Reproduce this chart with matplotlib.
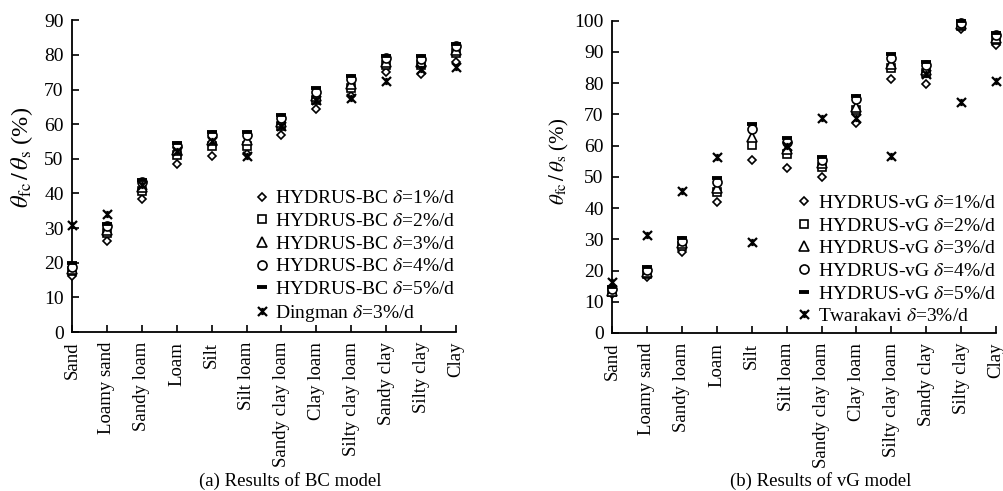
import matplotlib.pyplot as plt
import numpy as np
from matplotlib.path import Path

plt.rcParams['font.family'] = 'Liberation Serif'
plt.rcParams['mathtext.fontset'] = 'stix'

soils = ['Sand', 'Loamy sand', 'Sandy loam', 'Loam', 'Silt', 'Silt loam',
         'Sandy clay loam', 'Clay loam', 'Silty clay loam', 'Sandy clay',
         'Silty clay', 'Clay']

# BC model, theta_fc/theta_s (%)
bc_1 = [16.3, 26.4, 38.4, 48.4, 50.9, 51.3, 56.9, 64.5, 68.0, 75.0, 74.6, 78.0]
bc_2 = [17.5, 28.5, 40.8, 51.2, 53.8, 53.8, 59.5, 67.0, 70.3, 77.0, 77.0, 80.4]
bc_3 = [18.2, 29.5, 42.0, 52.5, 55.5, 55.5, 60.5, 68.0, 71.5, 78.0, 78.0, 81.5]
bc_4 = [18.8, 30.5, 43.2, 53.8, 56.9, 56.9, 61.8, 69.3, 73.0, 79.0, 78.8, 82.5]
bc_5 = [19.8, 31.3, 44.0, 54.5, 57.8, 57.8, 62.6, 70.3, 74.0, 79.6, 79.8, 83.2]
dingman = [31.0, 34.0, 42.5, 52.2, 55.0, 50.8, 59.5, 67.0, 67.5, 72.5, 76.0, 76.5]

# vG model
vg_1 = [12.5, 18.0, 26.0, 42.0, 55.3, 52.7, 50.0, 67.3, 81.3, 79.7, 97.3, 92.3]
vg_2 = [13.0, 19.0, 28.0, 45.2, 60.2, 57.3, 53.3, 71.4, 84.8, 83.3, 98.2, 93.8]
vg_3 = [13.5, 19.5, 28.8, 46.5, 62.8, 59.0, 54.5, 72.5, 86.3, 84.3, 98.8, 94.5]
vg_4 = [14.0, 20.3, 29.5, 48.5, 65.2, 61.3, 55.5, 75.0, 88.2, 85.8, 99.3, 95.3]
vg_5 = [14.8, 21.0, 30.5, 49.5, 66.8, 62.5, 56.5, 76.0, 89.2, 86.8, 99.8, 96.0]
twarakavi = [16.4, 31.4, 45.5, 56.3, 29.2, 59.8, 68.8, 69.0, 56.8, 83.0, 74.1, 80.7]

# asterisk marker: x with a short vertical bar
star = Path([(-1, -1), (1, 1), (-1, 1), (1, -1), (0, -0.8), (0, 0.8)],
            [Path.MOVETO, Path.LINETO, Path.MOVETO, Path.LINETO,
             Path.MOVETO, Path.LINETO])

styles = [
    dict(marker='D', ms=4.5, mfc='white', mec='black', mew=1.2),
    dict(marker='s', ms=6, mfc='white', mec='black', mew=1.2),
    dict(marker='^', ms=6.5, mfc='white', mec='black', mew=1.2),
    dict(marker='o', ms=6.5, mfc='white', mec='black', mew=1.2),
    dict(marker='_', ms=7, mec='black', mew=2.8),
    dict(marker=star, ms=6.5, mec='black', mew=1.6),
]

fig = plt.figure(figsize=(10.04, 4.91), dpi=100)
ax1 = fig.add_axes([0.0717, 0.3238, 0.3825, 0.635])
ax2 = fig.add_axes([0.6096, 0.3218, 0.3825, 0.6360])

x = np.arange(len(soils))


def draw(ax, series, labels, ymax, caption, cx, ylab_size, ylab_xy):
    for vals, lab, st in zip(series, labels, styles):
        ax.plot(x, vals, ls='none', color='black', label=lab, clip_on=False,
                zorder=3, **st)
    ax.set_xlim(0, 11)
    ax.set_ylim(0, ymax)
    ax.set_yticks(np.arange(0, ymax + 1, 10))
    ax.set_xticks(x)
    ax.set_xticklabels(soils, rotation=90, fontsize=13.5)
    ax.tick_params(axis='y', labelsize=14, pad=6)
    ax.tick_params(axis='x', pad=7)
    ax.tick_params(direction='in', length=5, width=1.2)
    ax.spines['top'].set_visible(False)
    ax.spines['right'].set_visible(False)
    ax.spines['left'].set_linewidth(1.3)
    ax.spines['bottom'].set_linewidth(1.3)
    ax.set_ylabel(r'$\theta_{\rm fc}\,/\,\theta_{\rm s}$ (%)',
                  fontsize=ylab_size)
    ax.yaxis.set_label_coords(*ylab_xy)
    ax.legend(loc='lower right', bbox_to_anchor=(1.0, 0.025), frameon=False,
              fontsize=14, handlelength=0.6, handletextpad=0.4,
              labelspacing=0.26, borderaxespad=0.0, borderpad=0.0)
    fig.text(cx, 0.003, caption, ha='center', va='bottom', fontsize=13.5)


bc_labels = [r'HYDRUS-BC $\delta$=%d%%/d' % k for k in range(1, 6)]
bc_labels.append(r'Dingman $\delta$=3%/d')
vg_labels = [r'HYDRUS-vG $\delta$=%d%%/d' % k for k in range(1, 6)]
vg_labels.append(r'Twarakavi $\delta$=3%/d')

draw(ax1, [bc_1, bc_2, bc_3, bc_4, bc_5, dingman], bc_labels, 90,
     '(a) Results of BC model', 0.289, 17.5, (-0.097, 0.56))
draw(ax2, [vg_1, vg_2, vg_3, vg_4, vg_5, twarakavi], vg_labels, 100,
     '(b) Results of vG model', 0.817, 15, (-0.108, 0.55))

fig.savefig('out.png', dpi=100)
